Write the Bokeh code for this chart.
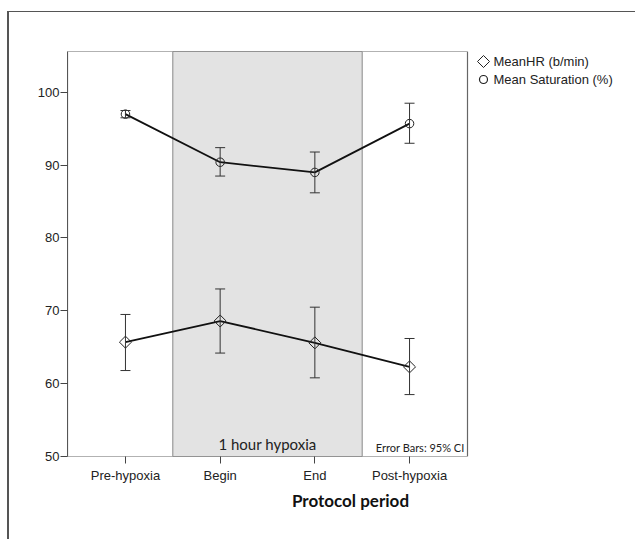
import math
from bokeh.plotting import figure
from bokeh.models import Range1d, Whisker, ColumnDataSource, FixedTicker
from bokeh.core.properties import value
from bokeh.embed import file_html
from bokeh.resources import INLINE

categories = ["Pre-hypoxia", "Begin", "End", "Post-hypoxia"]
hr_mean = [65.7, 68.6, 65.6, 62.3]
hr_low = [61.8, 64.2, 60.8, 58.5]
hr_high = [69.5, 73.0, 70.5, 66.2]
sat_mean = [97.0, 90.4, 89.0, 95.7]
sat_low = [96.5, 88.5, 86.2, 93.0]
sat_high = [97.5, 92.4, 91.8, 98.5]
y_ticks = [50, 60, 70, 80, 90, 100]
series_labels = ["MeanHR (b/min)", "Mean Saturation (%)"]

xs = list(range(len(categories)))
pad = 0.612                      # category padding of the plot box
box_left, box_right = xs[0] - pad, xs[-1] + pad
y_start, y_end = 50, 105.6

W, H = 628, 528
BL, BR, BT, BB = 58, 4, 39, 84
unit_px = 400 / (box_right - box_left)
x_end = box_left + (W - BL - BR) / unit_px
y_px = (H - BT - BB) / (y_end - y_start)

p = figure(width=W, height=H, output_backend="svg", toolbar_location=None,
           x_range=Range1d(box_left, x_end), y_range=Range1d(y_start, y_end),
           min_border_left=BL, min_border_top=BT, min_border_right=BR, min_border_bottom=BB)
p.styles = {"margin-top": "11px", "margin-left": "7px",
            "border-top": "1px solid #555", "border-left": "2px solid #555"}

p.xgrid.visible = False
p.ygrid.visible = False
p.outline_line_color = None

# shaded hypoxia period
p.quad(left=[xs[1] - 0.5], right=[xs[2] + 0.5], bottom=[y_start], top=[y_end],
       fill_color="#e3e3e3", line_color="#888888", line_width=1)
# plot box
p.quad(left=[box_left], right=[box_right], bottom=[y_start], top=[y_end],
       fill_alpha=0, line_color="#666666", line_width=1.2)

src_hr = ColumnDataSource(dict(x=xs, m=hr_mean, lo=hr_low, hi=hr_high))
src_sat = ColumnDataSource(dict(x=xs, m=sat_mean, lo=sat_low, hi=sat_high))

p.line("x", "m", source=src_hr, line_color="#111111", line_width=1.8)
p.line("x", "m", source=src_sat, line_color="#111111", line_width=1.8)
p.scatter("x", "m", source=src_hr, marker="square", size=8.5, angle=math.pi / 4,
          fill_alpha=0, line_color="#222222", line_width=1)
p.scatter("x", "m", source=src_sat, marker="circle", size=8.5, fill_alpha=0,
          line_color="#222222", line_width=1)

for src in (src_hr, src_sat):
    w = Whisker(source=src, base="x", lower="lo", upper="hi", line_color="#333333", line_width=1,
                level="annotation")
    w.upper_head.size = 10
    w.lower_head.size = 10
    w.upper_head.line_color = "#333333"
    w.lower_head.line_color = "#333333"
    p.add_layout(w)

p.text(x=[(xs[1] + xs[2]) / 2], y=[y_start], text=["1 hour hypoxia"], text_align="center",
       text_baseline="bottom", y_offset=-4, text_font=value("Lato"), text_font_size="15px",
       text_color="#222222")
p.text(x=[box_right], y=[y_start], text=["Error Bars: 95% CI"], text_align="right",
       text_baseline="bottom", x_offset=-3, y_offset=-3, text_font=value("Lato"),
       text_font_size="11px", text_color="#222222")

# legend (outside the plot box, at its top right)
leg_x = box_right + 16 / unit_px
leg_y1 = y_end - 10 / y_px
leg_y2 = y_end - 28 / y_px
p.scatter([leg_x], [leg_y1], marker="square", size=8.5, angle=math.pi / 4,
          fill_alpha=0, line_color="#222222", line_width=1)
p.scatter([leg_x], [leg_y2], marker="circle", size=8, fill_alpha=0,
          line_color="#222222", line_width=1.2)
p.text(x=[leg_x, leg_x], y=[leg_y1, leg_y2], text=series_labels, text_align="left",
       text_baseline="middle", x_offset=10, text_font=value("Liberation Sans"),
       text_font_size="13px", text_color="#222222")

p.yaxis.ticker = FixedTicker(ticks=y_ticks)
p.xaxis.ticker = FixedTicker(ticks=xs)
p.xaxis.major_label_overrides = {x: c for x, c in zip(xs, categories)}
for ax in (p.xaxis[0], p.yaxis[0]):
    ax.axis_line_color = "#555555"
    ax.major_tick_line_color = "#444444"
    ax.minor_tick_line_color = None
    ax.major_tick_out = 7
    ax.major_tick_in = 0
    ax.major_label_text_font = "Liberation Sans"
    ax.major_label_text_font_size = "13px"
    ax.major_label_text_color = "#222222"
p.xaxis.axis_line_color = None
p.xaxis.major_label_standoff = 4
p.yaxis.major_label_standoff = 1
p.xaxis.axis_label = "Protocol period"
p.xaxis.axis_label_text_font = "Lato"
p.xaxis.axis_label_text_font_style = "bold"
p.xaxis.axis_label_text_font_size = "17px"
p.xaxis.axis_label_text_color = "#111111"
p.xaxis.axis_label_standoff = 4

open("out.html", "w").write(file_html(p, INLINE))
